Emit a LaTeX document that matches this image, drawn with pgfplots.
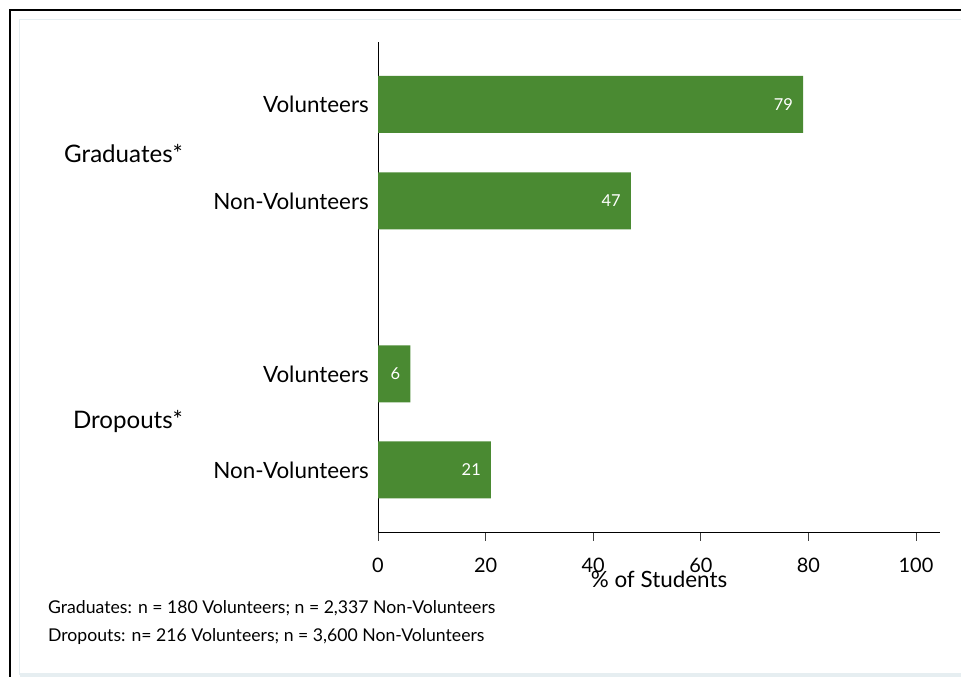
\documentclass[border=0pt]{standalone}
\usepackage{fontspec}
\setmainfont{Lato}
\usepackage{pgfplots}
\pgfplotsset{compat=1.18}
\definecolor{barGreen}{RGB}{74,138,50}
\definecolor{frameBlue}{RGB}{230,238,241}

\newcommand{\labelfont}{\fontsize{22.5}{26}\selectfont}
\newcommand{\groupfont}{\fontsize{24.2}{28}\selectfont}
\newcommand{\tickfont}{\fontsize{20}{24}\selectfont}
\newcommand{\notefont}{\fontsize{17.7}{21}\selectfont}

\begin{document}
\begin{tikzpicture}
\useasboundingbox (0bp,0bp) rectangle (961bp,677bp);
% page frame: dark outer rule, pale inner rule
\begin{scope}[x=1bp,y=1bp]
\draw[line width=2bp] (10,-5) -- (10,667) -- (975,667);
\draw[frameBlue, line width=1.5bp] (19.5,2) -- (19.5,657.5) -- (975,657.5);
\draw[frameBlue, line width=4bp] (19.5,2) -- (975,2);
\end{scope}

\begin{axis}[
  at={(378bp,144bp)}, anchor=south west,
  scale only axis, width=562bp, height=491bp,
  xbar, bar width=57,
  xmin=0, xmax=104.46, ymin=-533, ymax=-42,
  axis x line*=bottom, axis y line*=left,
  axis line style={black, line width=1bp},
  xtick={0,20,40,60,80,100},
  tick align=outside, major tick length=8bp,
  x tick style={black!75, line width=0.8bp},
  ytick={-104.5,-201,-374,-470},
  yticklabels={Volunteers,Non-Volunteers,Volunteers,Non-Volunteers},
  y tick style={draw=none},
  /pgf/number format/assume math mode=true,
  xticklabel style={font=\tickfont, inner sep=0pt, anchor=base, yshift=-31.3bp},
  yticklabel style={font=\labelfont, inner sep=0pt, xshift=-1bp},
  xlabel={\% of Students},
  xlabel style={at={(axis description cs:0.5,0)}, anchor=base, yshift=-54.5bp,
                font=\labelfont, inner sep=0pt},
  point meta=x,
  nodes near coords,
  every node near coord/.append style={anchor=east, text=white, inner sep=0pt,
                xshift=-10bp, font=\fontsize{16.5}{19}\selectfont},
  clip=false,
]
\addplot[fill=barGreen, draw=none] coordinates {
  (79,-104.5) (47,-201) (6,-374) (21,-470)
};
\end{axis}

% group labels
\node[anchor=base east, inner sep=0pt, font=\groupfont] at (183bp,514.3bp) {Graduates*};
\node[anchor=base east, inner sep=0pt, font=\groupfont] at (183bp,248.5bp) {Dropouts*};

% sample sizes
\node[anchor=base west, inner sep=0pt, font=\notefont] at (48bp,63bp) {Graduates: n = 180 Volunteers; n = 2,337 Non-Volunteers};
\node[anchor=base west, inner sep=0pt, font=\notefont] at (48bp,35.3bp) {Dropouts: n= 216 Volunteers; n = 3,600 Non-Volunteers};
\end{tikzpicture}
\end{document}
